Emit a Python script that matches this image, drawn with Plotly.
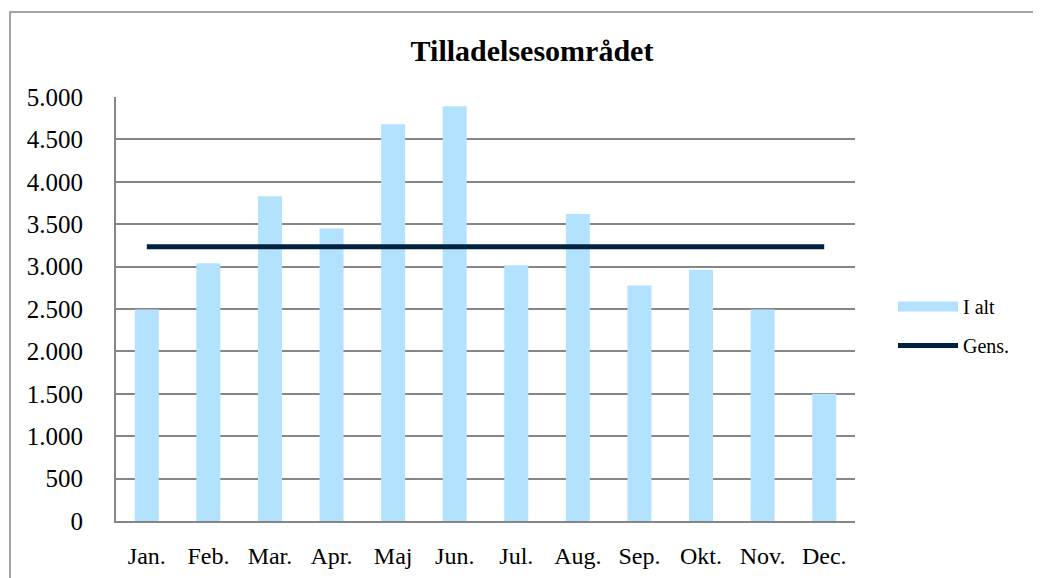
import plotly.graph_objects as go

months = ["Jan.", "Feb.", "Mar.", "Apr.", "Maj", "Jun.", "Jul.", "Aug.", "Sep.", "Okt.", "Nov.", "Dec."]
i_alt = [2495, 3040, 3830, 3450, 4680, 4890, 3015, 3620, 2778, 2962, 2493, 1502]
gens = [3235] * 12
y_ticks = [0, 500, 1000, 1500, 2000, 2500, 3000, 3500, 4000, 4500, 5000]
y_tick_text = ["0", "500", "1.000", "1.500", "2.000", "2.500", "3.000", "3.500", "4.000", "4.500", "5.000"]

W, H = 1041, 578
OFF = 8  # page body margin
L, R, T, B = 116 - OFF, 855 - OFF, 97 - OFF, 521 - OFF

def px(x):
    return (x - OFF - L) / (R - L)

def py(y):
    return (B - (y - OFF)) / (B - T)

BAR_COLOR = "#B3E2FE"
LINE_COLOR = "#00213F"

fig = go.Figure()
fig.add_trace(go.Bar(x=months, y=i_alt, name="I alt", showlegend=False,
                     marker=dict(color=BAR_COLOR, line=dict(width=0))))
fig.add_trace(go.Scatter(x=months, y=gens, name="Gens.", mode="lines", showlegend=False,
                         line=dict(color=LINE_COLOR, width=5)))
# legend entries
fig.add_trace(go.Scatter(x=[None], y=[None], name="I alt", mode="lines", legendgroup="a",
                         line=dict(color=BAR_COLOR, width=11)))
fig.add_trace(go.Scatter(x=[None], y=[None], name="Gens.", mode="lines", legendgroup="b",
                         line=dict(color=LINE_COLOR, width=5)))

fig.update_layout(
    width=W, height=H,
    margin=dict(l=L, r=W - R, t=T, b=H - B, pad=0),
    paper_bgcolor="white", plot_bgcolor="white",
    font=dict(family="Liberation Serif", color="black"),
    bargap=0.61,
    title=dict(text="<b>Tilladelsesområdet</b>", x=(532 - OFF) / W, xanchor="center",
               y=1 - (50 - OFF) / H, yanchor="middle",
               font=dict(family="Liberation Serif", size=30, color="black")),
    legend=dict(x=px(893), y=py(287), xanchor="left", yanchor="top",
                font=dict(family="Liberation Serif", size=20, color="black"),
                bgcolor="rgba(0,0,0,0)", itemwidth=60, tracegroupgap=10),
    showlegend=True,
    shapes=[dict(type="rect", xref="paper", yref="paper",
                 x0=px(10), x1=px(1060), y0=py(600), y1=py(12),
                 line=dict(color="#868686", width=1.5), fillcolor="rgba(0,0,0,0)", layer="below")],
)
fig.update_xaxes(showline=True, linecolor="#868686", linewidth=2, showgrid=False,
                 tickfont=dict(family="Liberation Serif", size=24), ticks="", ticklabelstandoff=12)
fig.update_yaxes(range=[0, 5000], tickvals=y_ticks, ticktext=y_tick_text,
                 showline=True, linecolor="#868686", linewidth=2,
                 showgrid=True, gridcolor="#868686", gridwidth=2, zeroline=False,
                 tickfont=dict(family="Liberation Serif", size=25), ticks="", ticklabelstandoff=26)

fig.write_html("out.html")
